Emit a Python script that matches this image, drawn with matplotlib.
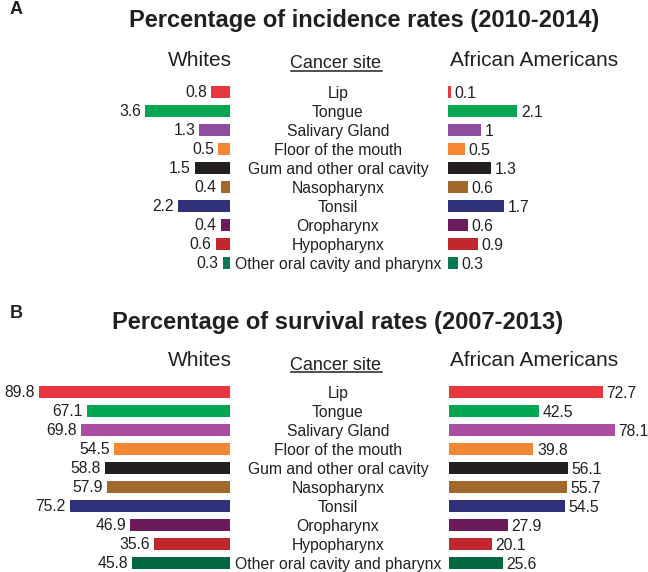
import matplotlib
matplotlib.use("Agg")
import matplotlib.pyplot as plt
from matplotlib.transforms import blended_transform_factory, offset_copy
from matplotlib.lines import Line2D

plt.rcParams['font.family'] = ['Liberation Sans', 'DejaVu Sans']

sites = ["Lip", "Tongue", "Salivary Gland", "Floor of the mouth",
         "Gum and other oral cavity", "Nasopharynx", "Tonsil", "Oropharynx",
         "Hypopharynx", "Other oral cavity and pharynx"]

inc_whites = [0.8, 3.6, 1.3, 0.5, 1.5, 0.4, 2.2, 0.4, 0.6, 0.3]
inc_aa = [0.1, 2.1, 1, 0.5, 1.3, 0.6, 1.7, 0.6, 0.9, 0.3]
inc_whites_lbl = ["0.8", "3.6", "1.3", "0.5", "1.5", "0.4", "2.2", "0.4", "0.6", "0.3"]
inc_aa_lbl = ["0.1", "2.1", "1", "0.5", "1.3", "0.6", "1.7", "0.6", "0.9", "0.3"]

surv_whites = [89.8, 67.1, 69.8, 54.5, 58.8, 57.9, 75.2, 46.9, 35.6, 45.8]
surv_aa = [72.7, 42.5, 78.1, 39.8, 56.1, 55.7, 54.5, 27.9, 20.1, 25.6]

colors_a = ["#E9363F", "#00A651", "#8F4DA0", "#F58634", "#231F20",
            "#A0682A", "#2E3079", "#6B1A5B", "#C1272D", "#0B7B4F"]
colors_b = ["#E9363F", "#00A651", "#AA4CA0", "#F58634", "#231F20",
            "#A0682A", "#2E3079", "#6B1A5B", "#C1272D", "#00673E"]

W, H = 648, 572
fig = plt.figure(figsize=(W / 100, H / 100), dpi=100)
fig.patch.set_facecolor("white")


def fx(px):
    return px / W


def fy(py):
    return 1 - py / H


def make_ax(left, right, top, bottom):
    ax = fig.add_axes([fx(left), fy(bottom), fx(right) - fx(left), fy(top) - fy(bottom)])
    ax.set_axis_off()
    return ax


VAL_FS = 11.3
SITE_FS = 11.3
HEAD_FS = 15
CS_FS = 13
TITLE_FS = 17
BAR_H = 0.64


def panel(row0, wvals, wlbls, avals, albls, colors, lax_px, rax_px, wscale, ascale,
          title, title_x, title_y, letter, letter_y, head_y, cs_y):
    top = row0 - 9.5
    bottom = row0 + 9 * 19 + 9.5
    axl = make_ax(lax_px[0], lax_px[1], top, bottom)
    axr = make_ax(rax_px[0], rax_px[1], top, bottom)
    ys = list(range(len(sites)))
    axl.barh(ys, wvals, height=BAR_H, color=colors, linewidth=0)
    axr.barh(ys, avals, height=BAR_H, color=colors, linewidth=0)
    axl.set_xlim((lax_px[1] - lax_px[0]) / wscale, 0)
    axr.set_xlim(0, (rax_px[1] - rax_px[0]) / ascale)
    for a in (axl, axr):
        a.set_ylim(9.5, -0.5)
    for y, v, t in zip(ys, wvals, wlbls):
        axl.annotate(t, (v, y), xytext=(-3, -0.5), textcoords="offset points",
                     ha="right", va="center", fontsize=VAL_FS, color="#231F20")
    for y, v, t in zip(ys, avals, albls):
        axr.annotate(t, (v, y), xytext=(2.5, -1.2), textcoords="offset points",
                     ha="left", va="center", fontsize=VAL_FS, color="#231F20")
    tr = offset_copy(blended_transform_factory(fig.transFigure, axl.transData),
                     fig=fig, x=0, y=-0.8, units="points")
    for y, s in zip(ys, sites):
        fig.text(fx(338), y, s, transform=tr, ha="center", va="center",
                 fontsize=SITE_FS, color="#231F20")
    fig.text(fx(232), fy(head_y), "Whites", ha="right", va="center",
             fontsize=HEAD_FS, color="#231F20")
    fig.text(fx(450), fy(head_y), "African Americans", ha="left", va="center",
             fontsize=HEAD_FS, color="#231F20")
    cs = fig.text(fx(336), fy(cs_y), "Cancer site", ha="center", va="center",
                  fontsize=CS_FS, color="#231F20")
    fig.text(fx(title_x), fy(title_y), title, ha="center", va="center",
             fontsize=TITLE_FS, fontweight="bold", color="#231F20")
    fig.text(fx(10), fy(letter_y), letter, ha="left", va="center",
             fontsize=13, fontweight="bold", color="#231F20")
    return cs


cs_a = panel(92, inc_whites, inc_whites_lbl, inc_aa, inc_aa_lbl, colors_a,
             (100, 230), (448, 648), 23.5, 33.0,
             "Percentage of incidence rates (2010-2014)", 364, 20, "A", 10, 61, 64)
cs_b = panel(392, surv_whites, [f"{v:.1f}" for v in surv_whites],
             surv_aa, [f"{v:.1f}" for v in surv_aa], colors_b,
             (0, 230), (449, 648), 2.13, 2.12,
             "Percentage of survival rates (2007-2013)", 338, 322, "B", 314, 361, 365)

fig.canvas.draw()
renderer = fig.canvas.get_renderer()
for cs in (cs_a, cs_b):
    bb = cs.get_window_extent(renderer).transformed(fig.transFigure.inverted())
    yline = bb.y0 + 0.1 * (bb.y1 - bb.y0)
    fig.add_artist(Line2D([bb.x0, bb.x1], [yline, yline], transform=fig.transFigure,
                          color="#231F20", linewidth=1.1))

fig.savefig("out.png", dpi=100, facecolor="white")
